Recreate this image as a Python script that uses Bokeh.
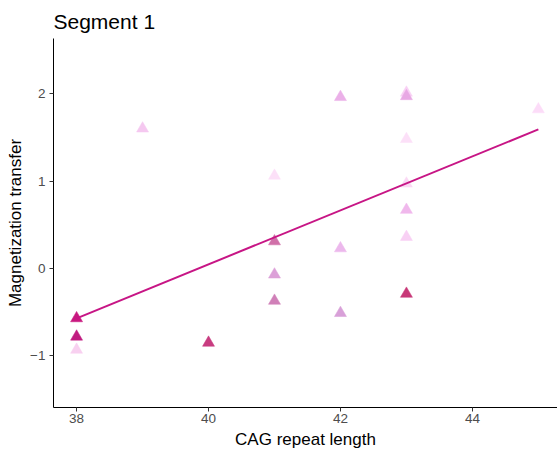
from bokeh.plotting import figure
from bokeh.models import ColumnDataSource, Range1d, FixedTicker
from bokeh.embed import file_html
from bokeh.resources import INLINE

# data
cag = [38, 38, 38, 39, 40, 41, 41, 41, 41, 42, 42, 42, 43, 43, 43, 43, 43, 43, 43, 45]
mt = [-0.57, -0.78, -0.93, 1.60, -0.85, 1.06, 0.31, -0.07, -0.37, 1.96, 0.23, -0.51,
      2.01, 1.97, 1.48, 0.97, 0.67, 0.36, -0.29, 1.82]
colors = ["#c8187f", "#c01c80", "#f8d0f0", "#f5c8f0", "#c83c80", "#fce0f8", "#d070a8",
          "#dca0d8", "#d080b8", "#ebb0e8", "#ecb8ec", "#d8a0d8", "#f8d0f4", "#e8a8e4",
          "#fce0f8", "#fad8f4", "#f0b8ec", "#f8d0f4", "#c83878", "#fcdcf8"]
fit_x = [38, 45]
fit_y = [-0.57, 1.59]
x_ticks = [38, 40, 42, 44]
y_ticks = [-1, 0, 1, 2]
y_tick_labels = {-1: "\u22121", 0: "0", 1: "1", 2: "2"}

p = figure(width=557, height=456, output_backend="svg", toolbar_location=None,
           x_range=Range1d(37.65, 45.29), y_range=Range1d(-1.59, 2.63),
           title="Segment 1", min_border_left=53, min_border_right=0,
           min_border_top=38, min_border_bottom=49)

p.title.text_font = "Liberation Sans"
p.title.text_font_size = "21px"
p.title.text_font_style = "normal"
p.title.text_color = "black"
p.title.offset = 0
p.title.standoff = 12

p.outline_line_color = None
p.xgrid.visible = False
p.ygrid.visible = False

src = ColumnDataSource(dict(x=cag, y=mt, c=colors))
p.scatter("x", "y", source=src, marker="triangle", size=12, fill_color="c",
          line_color="c", line_width=0.5)
p.line(fit_x, fit_y, line_color="#c71585", line_width=2)

for ax in (p.xaxis[0], p.yaxis[0]):
    ax.axis_line_color = "black"
    ax.axis_line_width = 1
    ax.major_tick_line_color = "#333333"
    ax.major_tick_out = 4
    ax.major_tick_in = 0
    ax.minor_tick_line_color = None
    ax.major_label_text_font = "Liberation Sans"
    ax.major_label_text_font_size = "13.5px"
    ax.major_label_text_color = "#4d4d4d"
    ax.axis_label_text_font = "Liberation Sans"
    ax.axis_label_text_font_size = "17px"
    ax.axis_label_text_font_style = "normal"
    ax.axis_label_text_color = "black"

p.xaxis.ticker = FixedTicker(ticks=x_ticks)
p.yaxis.ticker = FixedTicker(ticks=y_ticks)
p.yaxis.major_label_overrides = y_tick_labels
p.xaxis.axis_label = "CAG repeat length"
p.yaxis.axis_label = "Magnetization transfer"
p.xaxis.major_label_standoff = 2
p.xaxis.axis_label_standoff = 4
p.yaxis.major_label_standoff = 4
p.yaxis.axis_label_standoff = 2

open("out.html", "w").write(file_html(p, INLINE))
